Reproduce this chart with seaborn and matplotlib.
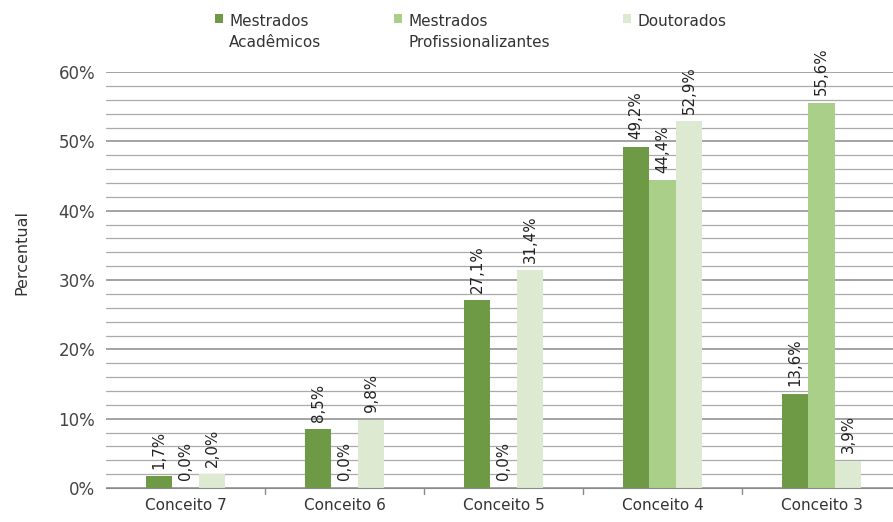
import pandas as pd
import matplotlib.pyplot as plt
import seaborn as sns
from matplotlib.patches import Patch
from matplotlib.ticker import MultipleLocator, FuncFormatter

# dados do gráfico
conceitos = ['Conceito 7', 'Conceito 6', 'Conceito 5', 'Conceito 4', 'Conceito 3']
series = ['Mestrados\nAcadêmicos', 'Mestrados\nProfissionalizantes', 'Doutorados']
mestrado_acad = [1.7, 8.5, 27.1, 49.2, 13.6]
mestrado_prof = [0.0, 0.0, 0.0, 44.4, 55.6]
doutorado = [2.0, 9.8, 31.4, 52.9, 3.9]
cores = ['#6f9a45', '#a9cf88', '#dde9d0']

df = pd.DataFrame({
    'conceito': conceitos * 3,
    'serie': [series[0]] * 5 + [series[1]] * 5 + [series[2]] * 5,
    'valor': mestrado_acad + mestrado_prof + doutorado,
})

sns.set_style('white')
plt.rcParams['font.family'] = ['DejaVu Sans']

fig = plt.figure(figsize=(8.93, 5.22), dpi=100)
ax = fig.add_axes([0.119, 0.065, 0.890, 0.797])

sns.barplot(data=df, x='conceito', y='valor', hue='serie', order=conceitos,
            hue_order=series, palette=cores, width=0.5, saturation=1,
            linewidth=0, legend=False, ax=ax)

# rótulos dos valores
for cont in ax.containers:
    for barra in cont:
        h = barra.get_height()
        ax.text(barra.get_x() + barra.get_width() / 2, h + 1.1,
                f'{h:.1f}%'.replace('.', ','), rotation=90, ha='center',
                va='bottom', fontsize=10.8, color='#222222')

ax.set_xlim(-0.5, 4.5)
ax.set_ylim(0, 60)
ax.yaxis.set_major_locator(MultipleLocator(10))
ax.yaxis.set_minor_locator(MultipleLocator(2))
ax.yaxis.set_major_formatter(FuncFormatter(lambda v, p: f'{v:.0f}%'))
ax.grid(axis='y', which='major', color='#8a8a8a', linewidth=1.1)
ax.grid(axis='y', which='minor', color='#aaaaaa', linewidth=0.9)
ax.set_axisbelow(True)

for s in ['top', 'right', 'left']:
    ax.spines[s].set_visible(False)
ax.spines['bottom'].set_color('#8a8a8a')

ax.set_xlabel('')
ax.set_ylabel('Percentual', fontsize=11.5, color='#333333')
ax.yaxis.set_label_coords(-0.097, 0.567)
ax.tick_params(axis='y', which='major', length=5, color='#8a8a8a',
               labelsize=12, labelcolor='#444444', pad=3)
ax.tick_params(axis='y', which='minor', length=0)
ax.tick_params(axis='x', length=0, labelsize=11, labelcolor='#333333', pad=7)

# marcas entre categorias
for x in [0.5, 1.5, 2.5, 3.5]:
    ax.plot([x, x], [0, -0.9], color='#8a8a8a', lw=1, clip_on=False)

handles = [Patch(facecolor=c, edgecolor='none') for c in cores]
leg = fig.legend(handles, series, loc='upper left', bbox_to_anchor=(0.225, 1.0),
                 ncol=3, frameon=False, fontsize=11, handlelength=0.55,
                 handleheight=0.55, handletextpad=0.4, columnspacing=4.75,
                 labelspacing=1.0)
for t in leg.get_texts():
    t.set_linespacing(1.55)
    t.set_color('#333333')
# alinhar marcadores com a primeira linha do texto
leg._legend_handle_box.align = 'top'
for col in leg._legend_handle_box.get_children():
    col.align = 'left'
    for row in col.get_children():
        row.align = 'top'

fig.savefig('out.png', dpi=100)
